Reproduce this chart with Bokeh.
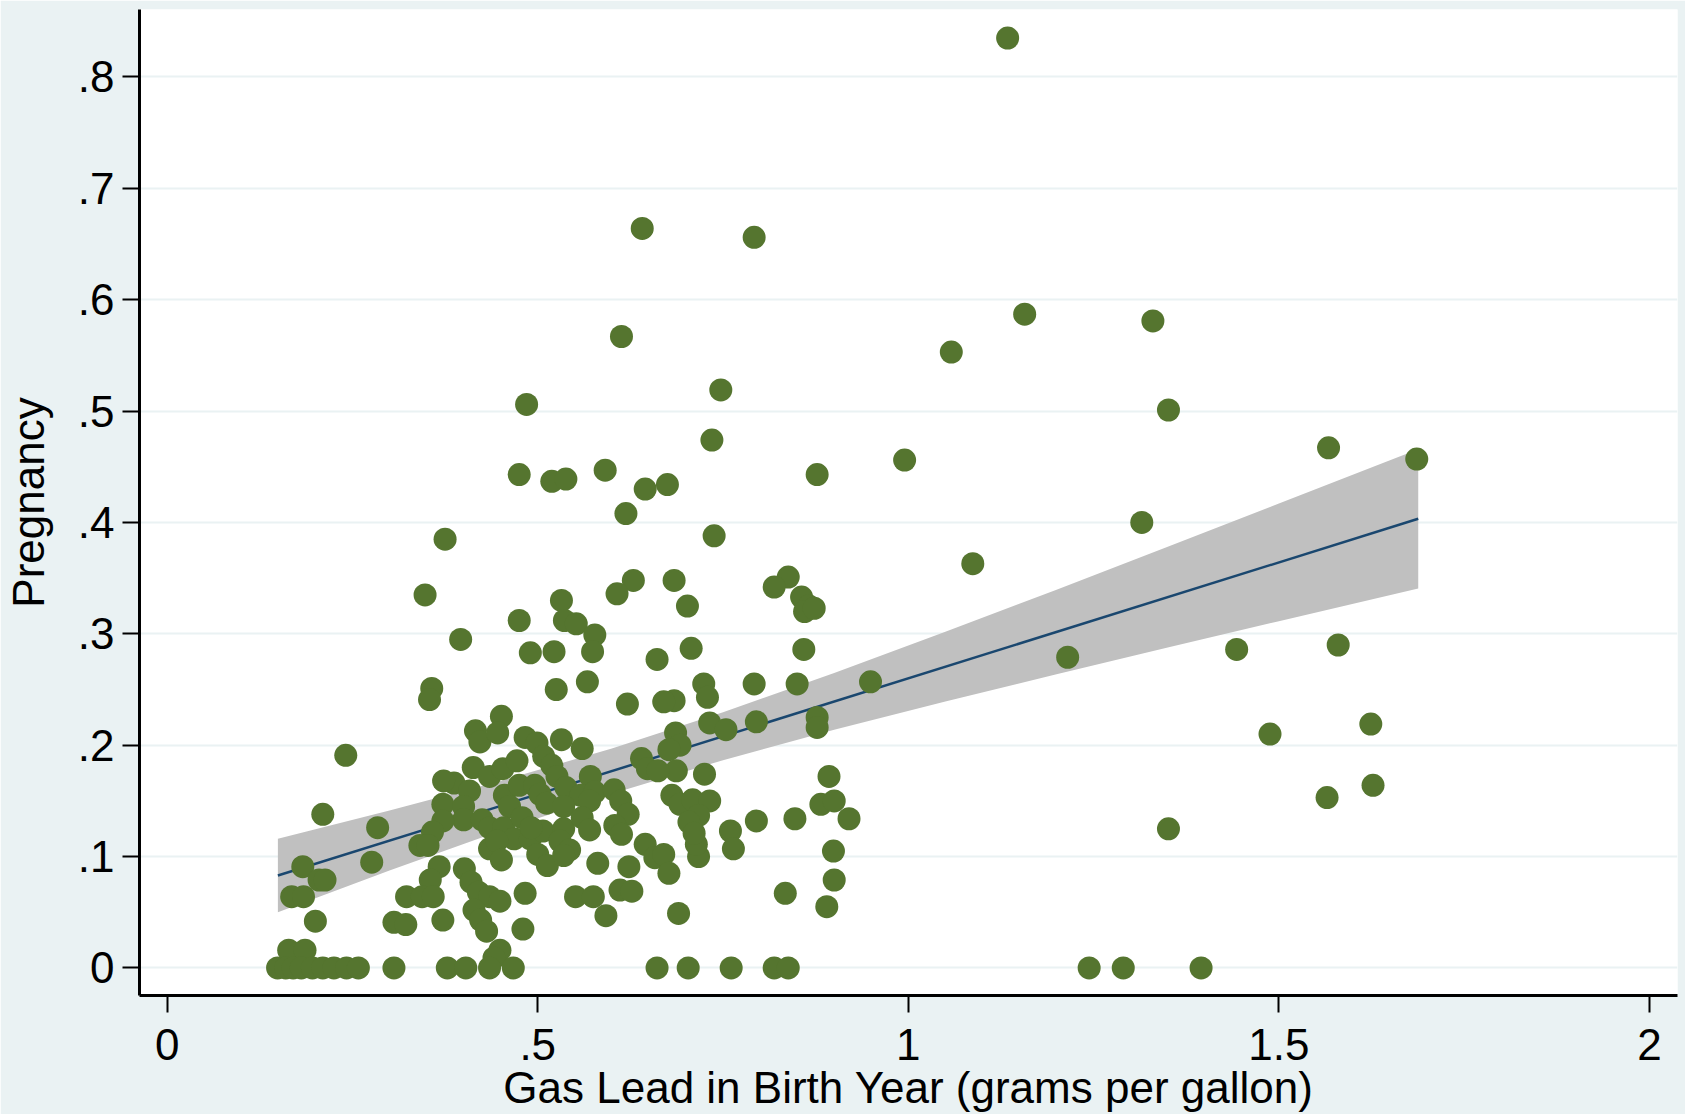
from bokeh.plotting import figure
from bokeh.models import Range1d, FixedTicker, ColumnDataSource
from bokeh.embed import file_html
from bokeh.resources import INLINE

# ---- data ----
lead = [
    1.134, 0.641, 0.792, 1.157, 1.330, 0.613, 1.058, 0.747, 0.485, 1.351,
    0.735, 1.567, 1.686, 0.995, 0.475, 0.591, 0.519, 0.538, 0.877, 0.675,
    0.645, 0.619, 1.315, 0.375, 0.738, 1.087, 0.838, 0.819, 0.629, 0.607,
    0.684, 0.348, 0.532, 0.856, 0.866, 0.860, 0.873, 0.702, 0.475, 0.536,
    0.552, 0.577, 0.574, 0.396, 0.490, 0.522, 0.707, 0.661, 0.859, 1.443,
    1.580, 1.215, 0.567, 0.525, 0.357, 0.354, 0.724, 0.729, 0.684, 0.670,
    0.792, 0.850, 0.949, 0.621, 0.241, 1.624, 0.877, 0.877, 0.795, 0.732,
    0.754, 1.488, 0.451, 0.416, 0.422, 0.483, 0.499, 0.446, 0.532, 0.560,
    0.508, 0.519, 0.640, 0.686, 0.692, 0.677, 0.687, 0.725, 0.526, 0.538,
    0.571, 0.413, 0.435, 0.453, 0.472, 0.387, 0.408, 0.372, 0.373, 0.455,
    0.462, 0.475, 0.496, 0.503, 0.512, 0.558, 0.577, 0.570, 0.535, 0.603,
    0.612, 0.622, 0.648, 0.662, 0.681, 0.692, 0.709, 0.732, 0.717, 0.704,
    0.893, 0.882, 0.900, 0.920, 0.847, 0.795, 0.400, 0.400, 0.425, 0.435,
    0.454, 0.468, 0.435, 0.445, 0.451, 0.490, 0.500, 0.513, 0.507, 0.535,
    0.530, 0.543, 0.535, 0.560, 0.570, 0.604, 0.613, 0.645, 0.658, 0.670,
    0.677, 0.717, 0.714, 0.760, 0.764, 0.899, 0.900, 0.890, 0.834, 0.581,
    0.623, 0.611, 0.627, 0.551, 0.575, 0.592, 0.690, 0.479, 0.491, 0.372,
    0.358, 0.341, 0.352, 0.284, 0.276, 0.367, 0.355, 0.401, 0.410, 0.420,
    0.435, 0.449, 0.414, 0.423, 0.431, 0.483, 0.480, 0.323, 0.344, 0.359,
    0.372, 0.306, 0.322, 0.449, 0.441, 0.183, 0.205, 0.213, 0.210, 0.168,
    0.184, 0.200, 0.164, 0.186, 0.711,
    0.149, 0.160, 0.170, 0.181, 0.196, 0.210, 0.225, 0.242, 0.258, 0.306,
    0.378, 0.403, 0.435, 0.467, 0.661, 0.703, 0.761, 0.819, 0.838, 1.244,
    1.290, 1.395,
    1.351, 1.565, 1.627,
]
pregnancy = [
    0.835, 0.664, 0.656, 0.587, 0.581, 0.567, 0.553, 0.519, 0.506, 0.501,
    0.474, 0.467, 0.457, 0.456, 0.443, 0.447, 0.437, 0.439, 0.443, 0.434,
    0.430, 0.408, 0.400, 0.385, 0.388, 0.363, 0.351, 0.342, 0.348, 0.336,
    0.348, 0.335, 0.330, 0.333, 0.325, 0.320, 0.323, 0.325, 0.312, 0.312,
    0.309, 0.299, 0.284, 0.295, 0.283, 0.284, 0.287, 0.277, 0.286, 0.286,
    0.290, 0.279, 0.257, 0.250, 0.251, 0.241, 0.255, 0.243, 0.240, 0.239,
    0.255, 0.255, 0.257, 0.237, 0.191, 0.219, 0.225, 0.216, 0.221, 0.220,
    0.214, 0.210, 0.226, 0.213, 0.203, 0.207, 0.202, 0.211, 0.205, 0.197,
    0.190, 0.182, 0.188, 0.211, 0.200, 0.196, 0.177, 0.174, 0.172, 0.162,
    0.172, 0.180, 0.172, 0.179, 0.186, 0.166, 0.159, 0.147, 0.168, 0.155,
    0.145, 0.164, 0.164, 0.156, 0.148, 0.155, 0.158, 0.150, 0.145, 0.160,
    0.150, 0.138, 0.179, 0.177, 0.155, 0.147, 0.151, 0.150, 0.137, 0.131,
    0.172, 0.147, 0.150, 0.134, 0.134, 0.132, 0.145, 0.133, 0.133, 0.126,
    0.126, 0.116, 0.107, 0.114, 0.097, 0.116, 0.102, 0.092, 0.123, 0.125,
    0.114, 0.106, 0.101, 0.135, 0.124, 0.128, 0.120, 0.111, 0.099, 0.102,
    0.085, 0.100, 0.111, 0.123, 0.107, 0.105, 0.079, 0.055, 0.067, 0.094,
    0.091, 0.070, 0.069, 0.064, 0.064, 0.047, 0.049, 0.135, 0.126, 0.132,
    0.122, 0.110, 0.110, 0.126, 0.095, 0.091, 0.079, 0.089, 0.077, 0.068,
    0.064, 0.060, 0.052, 0.043, 0.033, 0.067, 0.035, 0.064, 0.064, 0.064,
    0.043, 0.041, 0.039, 0.016, 0.009, 0.091, 0.079, 0.079, 0.138, 0.064,
    0.064, 0.042, 0.016, 0.016, 0.121,
    0.0, 0.0, 0.0, 0.0, 0.0, 0.0, 0.0, 0.0, 0.0, 0.0,
    0.0, 0.0, 0.0, 0.0, 0.0, 0.0, 0.0, 0.0, 0.0, 0.0,
    0.0, 0.0,
    0.125, 0.153, 0.164,
]

# fitted line and its 95% confidence band
fit_x = [0.1494, 1.688]
fit_y = [0.083, 0.4033]
ci_x = [0.1494, 0.30, 0.45, 0.60, 0.75, 0.90, 1.05, 1.20, 1.35, 1.50, 1.688]
ci_upper = [0.1161, 0.1413, 0.1680, 0.1971, 0.2296, 0.2648, 0.3018, 0.3397, 0.3782, 0.4170, 0.4658]
ci_lower = [0.0501, 0.0875, 0.1232, 0.1565, 0.1866, 0.2138, 0.2392, 0.2637, 0.2878, 0.3114, 0.3408]

x_ticks = [0, 0.5, 1, 1.5, 2]
x_tick_labels = ["0", ".5", "1", "1.5", "2"]
y_ticks = [0, 0.1, 0.2, 0.3, 0.4, 0.5, 0.6, 0.7, 0.8]
y_tick_labels = ["0", ".1", ".2", ".3", ".4", ".5", ".6", ".7", ".8"]
x_title = "Gas Lead in Birth Year (grams per gallon)"
y_title = "Pregnancy"

BG = "#eaf2f3"
FONT = "Liberation Sans"

p = figure(width=1685, height=1114, output_backend="svg", toolbar_location=None,
           x_range=Range1d(-0.0373, 2.0378), y_range=Range1d(-0.0247, 0.8606),
           min_border_left=139, min_border_right=8, min_border_top=9,
           min_border_bottom=119)
p.background_fill_color = "white"
p.border_fill_color = BG
p.outline_line_color = None

band_src = ColumnDataSource(dict(x=ci_x, lo=ci_lower, hi=ci_upper))
p.varea(x="x", y1="lo", y2="hi", source=band_src, fill_color="#c0c0c0", fill_alpha=1.0)
p.line(fit_x, fit_y, line_color="#1a476f", line_width=2.5)
p.scatter(lead, pregnancy, size=23, marker="circle", fill_color="#55752f",
          line_color=None)

# axes
p.xaxis.ticker = FixedTicker(ticks=x_ticks)
p.xaxis.major_label_overrides = {t: l for t, l in zip(x_ticks, x_tick_labels)}
p.yaxis.ticker = FixedTicker(ticks=y_ticks)
p.yaxis.major_label_overrides = {t: l for t, l in zip(y_ticks, y_tick_labels)}
p.yaxis.major_label_orientation = "horizontal"

for ax in (p.xaxis, p.yaxis):
    ax.axis_line_color = "black"
    ax.axis_line_width = 3
    ax.major_tick_line_color = "black"
    ax.major_tick_line_width = 2
    ax.major_tick_out = 17
    ax.major_tick_in = 0
    ax.minor_tick_line_color = None
    ax.major_label_text_font = FONT
    ax.major_label_text_font_size = "44px"
    ax.major_label_text_color = "black"
    ax.axis_label_text_font = FONT
    ax.axis_label_text_font_size = "44px"
    ax.axis_label_text_font_style = "normal"
    ax.axis_label_text_color = "black"

p.xaxis.axis_label = x_title
p.yaxis.axis_label = y_title
p.xaxis.major_label_standoff = 16
p.xaxis.axis_label_standoff = 0
p.yaxis.major_label_standoff = 8
p.yaxis.axis_label_standoff = 22

p.xgrid.grid_line_color = None
p.ygrid.grid_line_color = BG
p.ygrid.grid_line_width = 2
p.ygrid.ticker = FixedTicker(ticks=y_ticks)

open("out.html", "w").write(file_html(p, INLINE))
